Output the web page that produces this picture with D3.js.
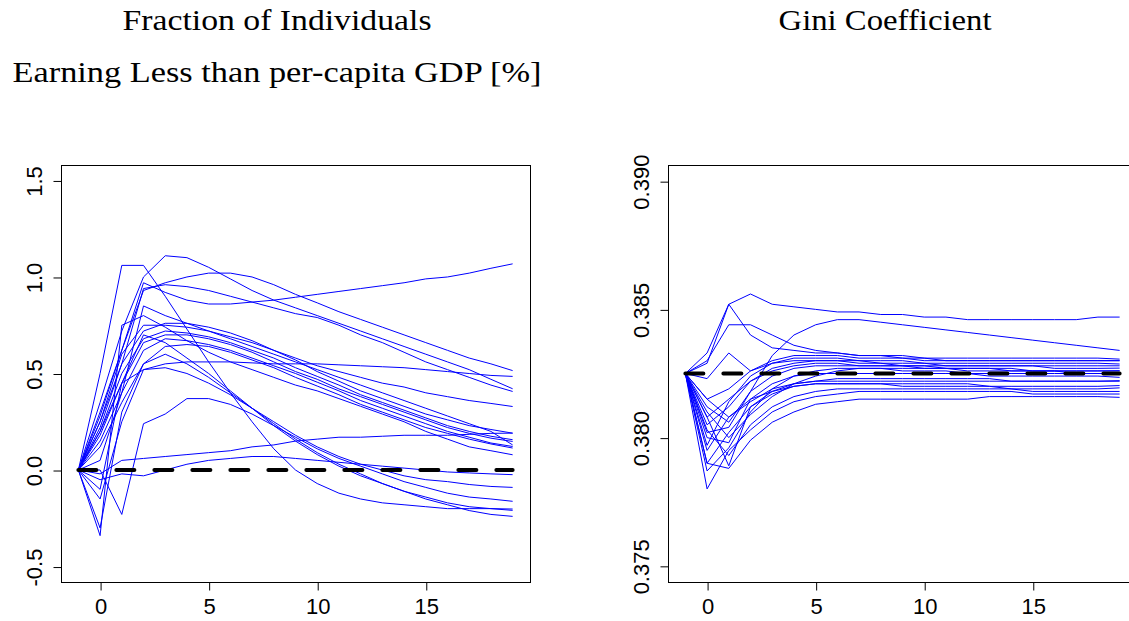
<!DOCTYPE html>
<html>
<head>
<meta charset="utf-8">
<script src="https://cdn.jsdelivr.net/npm/d3@7"></script>
<style>
  html, body { margin: 0; padding: 0; background: #fff; }
  svg { display: block; }
</style>
</head>
<body>
<svg id="chart" width="1129" height="621"></svg>
<script>
// Periods relative to the shock (t = -1 is the pre-shock baseline)
const periods = [-1, 0, 1, 2, 3, 4, 5, 6, 7, 8, 9, 10, 11, 12, 13, 14, 15, 16, 17, 18, 19];

// Change in the share of individuals earning less than per-capita GDP [%]
const fracSeries = [
  [0, 0.28, 0.62, 0.97, 0.92, 0.88, 0.86, 0.86, 0.87, 0.88, 0.895, 0.91, 0.925, 0.94, 0.955, 0.97, 0.99, 1.00, 1.02, 1.045, 1.068],
  [0, 0.35, 0.72, 1.00, 1.11, 1.10, 1.05, 0.99, 0.93, 0.88, 0.84, 0.80, 0.76, 0.72, 0.68, 0.64, 0.60, 0.56, 0.52, 0.47, 0.421],
  [0, 0.30, 0.62, 0.93, 0.97, 1.00, 1.02, 1.02, 1.00, 0.96, 0.91, 0.866, 0.82, 0.78, 0.74, 0.70, 0.66, 0.62, 0.58, 0.55, 0.515],
  [0, 0.50, 1.06, 1.06, 0.90, 0.73, 0.56, 0.40, 0.25, 0.11, 0.00, -0.07, -0.12, -0.15, -0.17, -0.18, -0.19, -0.20, -0.20, -0.20, -0.202],
  [0, 0.25, 0.55, 0.94, 0.96, 0.95, 0.93, 0.90, 0.87, 0.84, 0.81, 0.79, 0.75, 0.70, 0.66, 0.61, 0.56, 0.52, 0.48, 0.44, 0.407],
  [0, 0.20, 0.45, 0.52, 0.55, 0.56, 0.56, 0.56, 0.555, 0.55, 0.55, 0.55, 0.545, 0.54, 0.535, 0.53, 0.52, 0.51, 0.50, 0.49, 0.485],
  [0, 0.25, 0.60, 0.75, 0.75, 0.74, 0.72, 0.69, 0.66, 0.62, 0.58, 0.54, 0.51, 0.48, 0.45, 0.43, 0.40, 0.38, 0.36, 0.345, 0.329],
  [0, 0.22, 0.55, 0.72, 0.76, 0.76, 0.74, 0.71, 0.67, 0.62, 0.57, 0.51, 0.46, 0.41, 0.37, 0.33, 0.29, 0.26, 0.23, 0.21, 0.191],
  [0, 0.20, 0.50, 0.68, 0.72, 0.71, 0.69, 0.66, 0.62, 0.58, 0.53, 0.485, 0.44, 0.39, 0.35, 0.31, 0.27, 0.23, 0.20, 0.175, 0.157],
  [0, 0.18, 0.45, 0.66, 0.70, 0.70, 0.68, 0.65, 0.61, 0.56, 0.51, 0.47, 0.42, 0.38, 0.34, 0.30, 0.26, 0.22, 0.19, 0.165, 0.148],
  [0, 0.15, 0.40, 0.62, 0.68, 0.67, 0.65, 0.62, 0.58, 0.54, 0.50, 0.455, 0.41, 0.36, 0.32, 0.28, 0.24, 0.20, 0.17, 0.14, 0.122],
  [0, 0.12, 0.35, 0.55, 0.64, 0.65, 0.64, 0.61, 0.57, 0.53, 0.48, 0.435, 0.39, 0.34, 0.30, 0.26, 0.22, 0.19, 0.16, 0.135, 0.114],
  [0, -0.34, 0.75, 0.80, 0.74, 0.67, 0.61, 0.56, 0.52, 0.48, 0.44, 0.41, 0.37, 0.33, 0.29, 0.25, 0.20, 0.16, 0.12, 0.10, 0.079],
  [0, 0.00, -0.23, 0.24, 0.29, 0.37, 0.37, 0.34, 0.29, 0.23, 0.17, 0.11, 0.06, 0.02, -0.02, -0.06, -0.09, -0.12, -0.14, -0.15, -0.162],
  [0, -0.02, 0.05, 0.06, 0.07, 0.08, 0.09, 0.10, 0.12, 0.13, 0.15, 0.16, 0.17, 0.17, 0.175, 0.18, 0.18, 0.18, 0.185, 0.19, 0.191],
  [0, -0.05, -0.02, -0.03, 0.00, 0.03, 0.05, 0.06, 0.07, 0.07, 0.06, 0.05, 0.04, 0.03, 0.02, 0.01, 0.00, -0.01, -0.015, -0.02, -0.024],
  [0, -0.15, 0.25, 0.52, 0.53, 0.50, 0.45, 0.39, 0.32, 0.25, 0.18, 0.12, 0.07, 0.03, 0.00, -0.03, -0.05, -0.06, -0.075, -0.085, -0.090],
  [0, -0.10, 0.45, 0.70, 0.66, 0.58, 0.50, 0.41, 0.32, 0.23, 0.15, 0.08, 0.02, -0.03, -0.07, -0.11, -0.14, -0.17, -0.19, -0.20, -0.209],
  [0, -0.30, 0.30, 0.55, 0.60, 0.55, 0.48, 0.40, 0.32, 0.24, 0.16, 0.09, 0.03, -0.02, -0.07, -0.11, -0.15, -0.18, -0.21, -0.23, -0.240],
  [0, 0.05, 0.40, 0.85, 0.80, 0.76, 0.72, 0.68, 0.64, 0.60, 0.56, 0.52, 0.48, 0.44, 0.40, 0.36, 0.32, 0.28, 0.24, 0.20, 0.130]
];

// Gini coefficient paths
const giniSeries = [
  [0.3825, 0.3829, 0.3852, 0.3856, 0.3852, 0.3851, 0.3850, 0.3849, 0.3849, 0.3848, 0.3848, 0.3847, 0.3847, 0.3846, 0.3846, 0.3846, 0.3846, 0.3846, 0.3846, 0.3847, 0.3847],
  [0.3825, 0.3802, 0.3804, 0.3818, 0.3832, 0.3840, 0.3844, 0.3846, 0.3846, 0.3845, 0.3844, 0.3843, 0.3842, 0.3841, 0.3840, 0.3839, 0.3838, 0.3837, 0.3836, 0.3835, 0.3834],
  [0.3825, 0.3833, 0.3852, 0.3840, 0.3835, 0.3834, 0.3833, 0.3833, 0.3832, 0.3832, 0.3832, 0.3831, 0.3831, 0.3831, 0.3831, 0.3831, 0.3831, 0.3831, 0.3831, 0.3831, 0.38306],
  [0.3825, 0.3830, 0.3844, 0.3844, 0.3840, 0.3836, 0.3834, 0.3833, 0.3832, 0.3832, 0.3831, 0.3831, 0.3830, 0.3830, 0.3830, 0.3830, 0.3830, 0.3830, 0.3830, 0.3830, 0.3830],
  [0.3825, 0.3790, 0.3788, 0.3799, 0.3806, 0.3810, 0.3813, 0.3814, 0.3815, 0.3815, 0.3815, 0.3815, 0.3815, 0.3815, 0.3816, 0.3816, 0.3816, 0.3816, 0.3816, 0.3816, 0.38157],
  [0.3825, 0.3780, 0.3795, 0.3803, 0.3810, 0.3814, 0.3816, 0.3817, 0.3818, 0.3818, 0.3818, 0.3818, 0.3818, 0.3818, 0.3818, 0.3818, 0.3817, 0.3817, 0.3817, 0.3817, 0.3817],
  [0.3825, 0.3790, 0.3802, 0.3812, 0.3817, 0.3820, 0.3821, 0.3821, 0.3821, 0.3821, 0.3820, 0.3820, 0.3820, 0.3820, 0.3820, 0.3819, 0.3819, 0.3819, 0.3819, 0.3819, 0.38194],
  [0.3825, 0.3795, 0.3808, 0.3815, 0.3818, 0.3820, 0.3821, 0.3821, 0.3821, 0.3821, 0.3821, 0.3821, 0.3821, 0.3821, 0.3820, 0.3820, 0.3820, 0.3820, 0.3820, 0.3820, 0.38203],
  [0.3825, 0.3808, 0.3789, 0.3812, 0.3818, 0.3821, 0.3822, 0.3823, 0.3823, 0.3823, 0.3823, 0.3823, 0.3823, 0.3823, 0.3823, 0.3822, 0.3822, 0.3822, 0.3822, 0.3822, 0.38222],
  [0.3825, 0.3800, 0.3798, 0.3815, 0.3821, 0.3824, 0.3825, 0.3825, 0.3825, 0.3825, 0.3825, 0.3825, 0.3825, 0.3825, 0.3824, 0.3824, 0.3824, 0.3824, 0.3824, 0.3824, 0.38235],
  [0.3825, 0.3812, 0.3806, 0.3818, 0.3824, 0.3827, 0.3828, 0.3828, 0.3828, 0.3828, 0.3828, 0.3827, 0.3827, 0.3827, 0.3827, 0.3827, 0.3826, 0.3826, 0.3826, 0.3826, 0.38261],
  [0.3825, 0.3805, 0.3812, 0.3822, 0.3827, 0.3829, 0.3830, 0.3830, 0.3830, 0.3829, 0.3829, 0.3829, 0.3828, 0.3828, 0.3828, 0.3828, 0.3828, 0.3827, 0.3827, 0.3827, 0.38271],
  [0.3825, 0.3797, 0.3814, 0.3824, 0.3829, 0.3831, 0.3831, 0.3831, 0.3830, 0.3830, 0.3830, 0.3829, 0.3829, 0.3829, 0.3829, 0.3829, 0.3829, 0.3829, 0.3829, 0.3829, 0.38287],
  [0.3825, 0.3815, 0.3819, 0.3826, 0.3830, 0.3832, 0.3832, 0.3832, 0.3831, 0.3831, 0.3831, 0.3830, 0.3830, 0.3830, 0.3830, 0.3830, 0.3830, 0.3830, 0.3830, 0.3830, 0.3830],
  [0.3825, 0.3810, 0.3800, 0.3809, 0.3816, 0.3821, 0.3824, 0.3826, 0.3827, 0.3827, 0.3827, 0.3827, 0.3827, 0.3826, 0.3826, 0.3826, 0.3826, 0.3826, 0.3826, 0.3826, 0.3826],
  [0.3825, 0.3808, 0.3815, 0.3822, 0.3826, 0.3828, 0.3829, 0.3829, 0.3828, 0.3828, 0.3828, 0.3828, 0.3827, 0.3827, 0.3827, 0.3826, 0.3826, 0.3826, 0.3825, 0.3825, 0.3825],
  [0.3825, 0.3823, 0.3833, 0.3826, 0.3829, 0.3830, 0.3830, 0.3830, 0.3829, 0.3829, 0.3828, 0.3828, 0.3828, 0.3828, 0.3828, 0.3828, 0.3828, 0.3828, 0.3828, 0.3828, 0.3828],
  [0.3825, 0.3787, 0.3796, 0.3810, 0.3819, 0.3824, 0.3826, 0.3827, 0.3827, 0.3827, 0.3826, 0.3826, 0.3826, 0.3825, 0.3825, 0.3825, 0.3825, 0.3825, 0.3825, 0.3825, 0.3825],
  [0.3825, 0.3815, 0.3808, 0.3814, 0.3819, 0.3821, 0.3822, 0.3822, 0.3822, 0.3822, 0.3822, 0.3822, 0.3822, 0.3822, 0.3822, 0.3822, 0.3822, 0.3822, 0.3822, 0.3822, 0.3822],
  [0.3825, 0.3803, 0.3793, 0.3805, 0.3812, 0.3816, 0.3818, 0.3819, 0.3819, 0.3819, 0.3819, 0.3819, 0.3819, 0.3819, 0.3819, 0.3819, 0.3818, 0.3818, 0.3818, 0.3818, 0.3818]
];

// Reference (no-shock) levels drawn as dashed lines
const fracBaseline = 0;
const giniBaseline = 0.3825;

// Axis ticks
const xTicks = [0, 5, 10, 15];
const fracTicks = [-0.5, 0, 0.5, 1, 1.5];
const fracTickLabels = ["-0.5", "0.0", "0.5", "1.0", "1.5"];
const giniTicks = [0.375, 0.380, 0.385, 0.390];
const giniTickLabels = ["0.375", "0.380", "0.385", "0.390"];

const svg = d3.select("#chart");
const serif = "'Liberation Serif', 'Times New Roman', serif";
const sans = "'Liberation Sans', Arial, sans-serif";

function drawPanel(opts) {
  const x = d3.scaleLinear().domain([-1.8, 19.8]).range([opts.left, opts.left + 469]);
  const y = d3.scaleLinear().domain(opts.yDomain).range([582, 165]);
  const g = svg.append("g");

  // titles
  opts.titles.forEach((t) => {
    g.append("text")
      .attr("x", t.cx).attr("y", t.y)
      .attr("text-anchor", "middle")
      .attr("font-family", serif)
      .attr("font-size", 30)
      .attr("textLength", t.w)
      .attr("lengthAdjust", "spacingAndGlyphs")
      .attr("fill", "#000")
      .text(t.text);
  });

  const line = d3.line()
    .x((d, i) => x(periods[i]))
    .y((d) => y(d));

  g.append("g")
    .selectAll("path")
    .data(opts.series)
    .join("path")
    .attr("d", line)
    .attr("fill", "none")
    .attr("stroke", "#0000ff")
    .attr("stroke-width", 1)
    .attr("stroke-linejoin", "round");

  // dashed reference level
  g.append("path")
    .attr("d", line(periods.map(() => opts.baseline)))
    .attr("fill", "none")
    .attr("stroke", "#000")
    .attr("stroke-width", 4)
    .attr("stroke-dasharray", "18,20")
    .attr("stroke-linecap", "round");

  // frame
  g.append("rect")
    .attr("x", opts.left + 0.5).attr("y", 165.5)
    .attr("width", 469).attr("height", 417)
    .attr("fill", "none").attr("stroke", "#000").attr("stroke-width", 1);

  // bottom axis
  const xAxis = g.append("g")
    .attr("transform", "translate(0.5,582.5)")
    .call(d3.axisBottom(x).tickValues(xTicks).tickSize(8).tickFormat(d3.format("d")));
  xAxis.select(".domain").remove();
  xAxis.selectAll("line").attr("stroke", "#000");
  xAxis.selectAll("text")
    .attr("y", 31).attr("dy", 0)
    .attr("font-family", sans).attr("font-size", 22).attr("fill", "#000");

  // left axis with rotated labels
  const yAxis = g.append("g")
    .attr("transform", `translate(${opts.left + 0.5},0.5)`)
    .call(d3.axisLeft(y).tickValues(opts.ticks).tickSize(8)
      .tickFormat((d, i) => opts.tickLabels[i]));
  yAxis.select(".domain").remove();
  yAxis.selectAll("line").attr("stroke", "#000");
  yAxis.selectAll("text")
    .attr("transform", "rotate(-90)")
    .attr("x", 0).attr("y", -20).attr("dy", 0)
    .attr("text-anchor", "middle")
    .attr("font-family", sans).attr("font-size", 22).attr("fill", "#000");
}

drawPanel({
  left: 61,
  yDomain: [-0.58, 1.58],
  series: fracSeries,
  baseline: fracBaseline,
  ticks: fracTicks,
  tickLabels: fracTickLabels,
  titles: [
    { text: "Fraction of Individuals", cx: 277, y: 30, w: 309 },
    { text: "Earning Less than per-capita GDP [%]", cx: 277, y: 82, w: 529 }
  ]
});

drawPanel({
  left: 668,
  yDomain: [0.37437, 0.39063],
  series: giniSeries,
  baseline: giniBaseline,
  ticks: giniTicks,
  tickLabels: giniTickLabels,
  titles: [
    { text: "Gini Coefficient", cx: 885, y: 30, w: 213 }
  ]
});
</script>
</body>
</html>
